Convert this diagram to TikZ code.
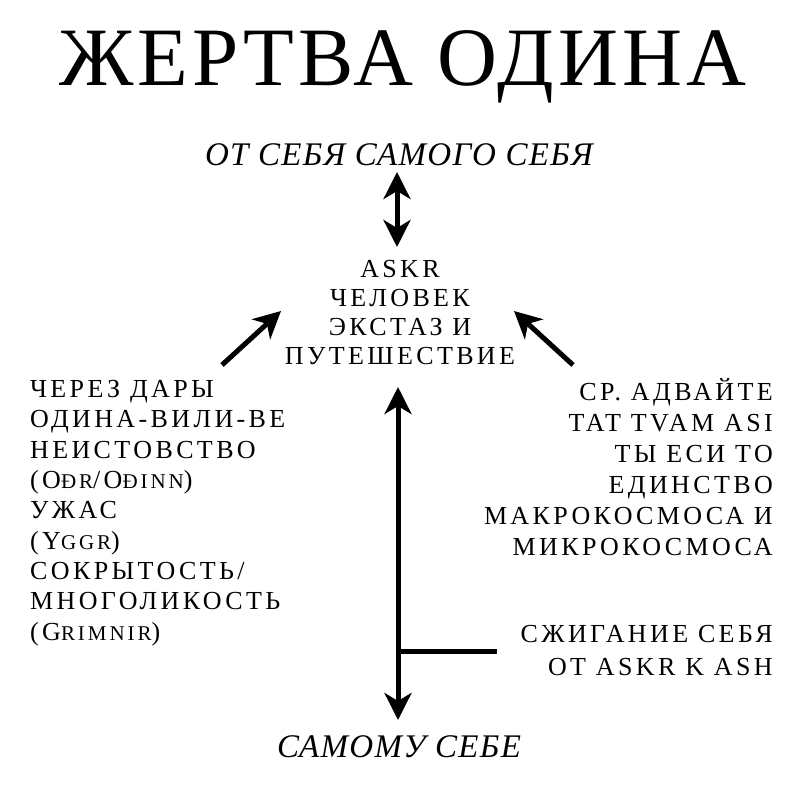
\documentclass[tikz,border=0pt]{standalone}
\usepackage{fontspec}
\setmainfont{Liberation Serif}
\usetikzlibrary{arrows.meta}
\tikzset{
  titletext/.style={font=\fontsize{83}{83}\selectfont\addfontfeatures{LetterSpace=5}, inner sep=0pt},
  ittext/.style={font=\itshape\fontsize{33}{33}\selectfont\addfontfeatures{LetterSpace=4}, inner sep=0pt},
  bodytext/.style={font=\fontsize{26}{30.3}\selectfont\addfontfeatures{LetterSpace=13}, inner sep=0pt},
  thickarrow/.style={line width=5pt, -{Stealth[length=27pt,width=27pt,inset=8pt]}},
  thickdouble/.style={line width=5pt, {Stealth[length=27pt,width=27pt,inset=8pt]}-{Stealth[length=27pt,width=27pt,inset=8pt]}},
  thickline/.style={line width=5pt}
}
\newcommand{\sm}[1]{{\fontsize{21}{21}\selectfont\addfontfeatures{LetterSpace=14}#1}}
\begin{document}
\begin{tikzpicture}[x=1pt,y=-1pt]
\useasboundingbox[fill=white] (0,0) rectangle (800,800);
\node[titletext, anchor=base] (title) at (403,85) {ЖЕРТВА ОДИНА};
\node[ittext, anchor=base] (top) at (399,165) {ОТ СЕБЯ САМОГО СЕБЯ};
\node[bodytext, font=\fontsize{26}{29}\selectfont\addfontfeatures{LetterSpace=13}, anchor=base, align=center] (askr) at (400,364)
  {ASKR\\ЧЕЛОВЕК\\ЭКСТАЗ И\\ПУТЕШЕСТВИЕ};
\node[bodytext, anchor=base west, align=left] (left) at (30,640)
  {ЧЕРЕЗ ДАРЫ\\ОДИНА-ВИЛИ-ВЕ\\НЕИСТОВСТВО\\(O\sm{ÐR}/O\sm{ÐINN})\\УЖАС\\(Y\sm{GGR})\\СОКРЫТОСТЬ/\\МНОГОЛИКОСТЬ\\(G\sm{RIMNIR})};
\node[bodytext, font=\fontsize{26}{31}\selectfont\addfontfeatures{LetterSpace=13}, anchor=base east, align=right] (right) at (773,555)
  {СР. АДВАЙТЕ\\TAT TVAM ASI\\ТЫ ЕСИ ТО\\ЕДИНСТВО\\МАКРОКОСМОСА И\\МИКРОКОСМОСА};
\node[bodytext, font=\fontsize{26}{33}\selectfont\addfontfeatures{LetterSpace=13}, anchor=base east, align=right] (burn) at (773,675)
  {СЖИГАНИЕ СЕБЯ\\ОТ ASKR K ASH};
\node[ittext, anchor=base] (bottom) at (399,757) {САМОМУ СЕБЕ};
% connectors
\coordinate (tt) at (397,172);
\coordinate (tb) at (397,247);
\draw[thickdouble] (tt) -- (tb);
\coordinate (ls) at (222,365);
\coordinate (le) at (281,311);
\draw[thickarrow] (ls) -- (le);
\coordinate (rs) at (573,365);
\coordinate (re) at (514,311);
\draw[thickarrow] (rs) -- (re);
\coordinate (vt) at (398,387);
\coordinate (vb) at (398,720);
\draw[thickdouble] (vt) -- (vb);
\coordinate (hj) at (398,651);
\coordinate (he) at (497,651);
\draw[thickline] (hj) -- (he);
\end{tikzpicture}
\end{document}
